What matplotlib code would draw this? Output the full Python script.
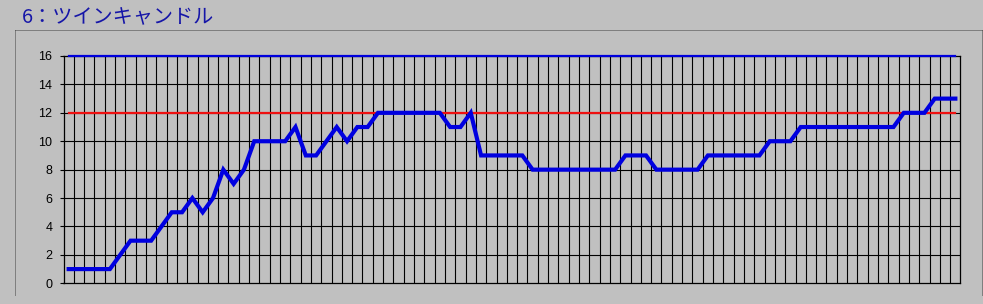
import matplotlib
matplotlib.use("Agg")
import matplotlib.pyplot as plt
from matplotlib.lines import Line2D
import numpy as np

title = "6：ツインキャンドル"
values = [1, 1, 1, 1, 1, 2, 3, 3, 3, 4, 5, 5, 6, 5, 6, 8, 7, 8,
          10, 10, 10, 10, 11, 9, 9, 10, 11, 10, 11, 11,
          12, 12, 12, 12, 12, 12, 12, 11, 11, 12,
          9, 9, 9, 9, 9, 8, 8, 8, 8, 8, 8, 8, 8, 8,
          9, 9, 9, 8, 8, 8, 8, 8, 9, 9, 9, 9, 9, 9,
          10, 10, 10, 11, 11, 11, 11, 11, 11, 11, 11, 11, 11,
          12, 12, 12, 13, 13, 13]
upper_level = 16
target_level = 12
y_ticks = [0, 2, 4, 6, 8, 10, 12, 14, 16]

W, H = 983, 304
fig = plt.figure(figsize=(W / 100, H / 100), dpi=100)
fig.patch.set_facecolor("#C0C0C0")

left, right, top, bottom = 63.5, 960.5, 56.0, 283.3
ax = fig.add_axes([left / W, 1 - bottom / H, (right - left) / W, (bottom - top) / H])
ax.set_facecolor("#C0C0C0")

n = len(values)
x = np.arange(n)
ax.set_xlim(-0.5, n - 0.5)
ax.set_ylim(0, 16)

# vertical grid at category boundaries
for b in np.arange(0.5, n - 0.5, 1.0):
    ax.axvline(b, color="black", lw=0.8, zorder=1)
for t in y_ticks[1:-1]:
    ax.axhline(t, color="black", lw=0.8, zorder=1)

ax.plot(x, [upper_level] * n, color="#0000DD", lw=1.6, zorder=3, clip_on=False)
ax.plot(x, [target_level] * n, color="#EE1010", lw=1.6, zorder=3)
ax.plot(x, values, color="#0000E0", lw=3.0, zorder=4, solid_joinstyle="miter")

for s in ax.spines.values():
    s.set_color("black")
    s.set_linewidth(0.9)

ax.set_xticks([])
ax.set_yticks(y_ticks)
ax.tick_params(axis="y", direction="out", length=3, width=0.8, color="black",
               pad=5, labelsize=9, labelcolor="#000000")
for lab in ax.get_yticklabels():
    lab.set_fontfamily(["Liberation Sans", "DejaVu Sans"])

fig.text(22 / W, 1 - 18 / H, title, color="#1616a8", fontsize=14.5,
         family=["Noto Sans CJK JP", "DejaVu Sans"], va="center", ha="left")

# dotted chart-area border
def fl(x0, y0, x1, y1):
    fig.add_artist(Line2D([x0 / W, x1 / W], [1 - y0 / H, 1 - y1 / H],
                          color="#404040", lw=0.72, linestyle=(0, (1, 1))))

fl(15.5, 29.5, 981.5, 29.5)
fl(15.5, 29.5, 15.5, 295)
fl(981.5, 29.5, 981.5, 295)

fig.savefig("out.png", dpi=100, facecolor=fig.get_facecolor())
